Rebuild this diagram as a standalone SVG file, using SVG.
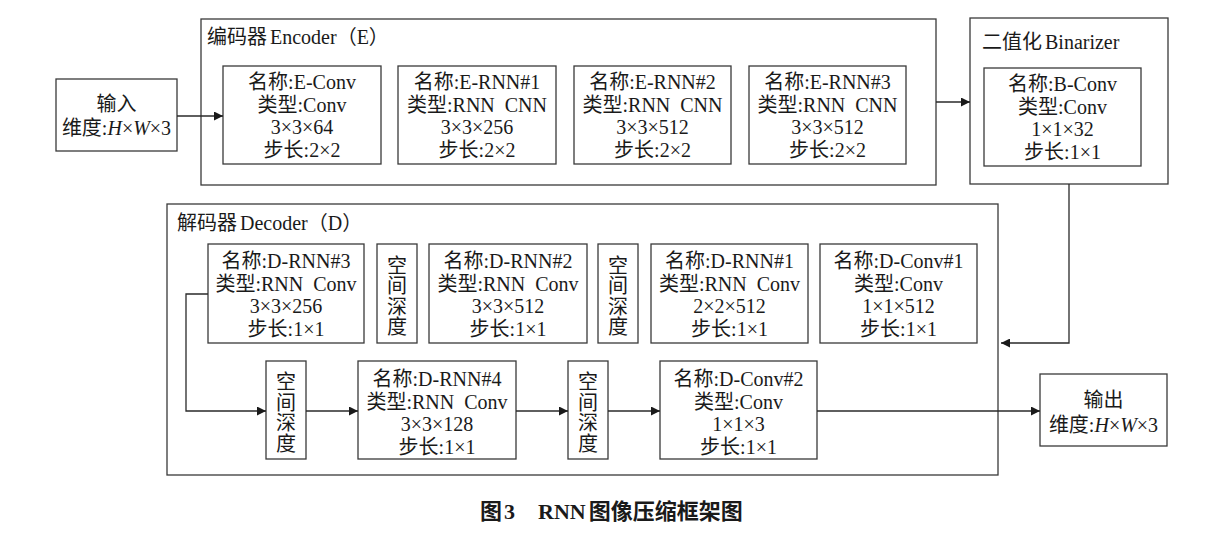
<svg xmlns="http://www.w3.org/2000/svg" width="1232" height="534" viewBox="0 0 1232 534">
<style>
  .box { fill: #fff; stroke: #3a3a3a; stroke-width: 1.3; }
  .frame { fill: none; stroke: #3a3a3a; stroke-width: 1.3; }
  text { font-family: "Liberation Serif", "Noto Sans CJK SC", serif; font-size: 20px; fill: #1a1a1a; }
  .c { text-anchor: middle; }
  .title { font-size: 20px; }
  .cap { font-size: 22px; font-weight: bold; }
  .it { font-style: italic; }
  .conn { fill: none; stroke: #2a2a2a; stroke-width: 1.3; }
</style>
<defs>
  <marker id="arr" viewBox="0 0 10 10" refX="10" refY="5" markerWidth="9" markerHeight="9" markerUnits="userSpaceOnUse" orient="auto">
    <path d="M0,0 L10,5 L0,10 z" fill="#1a1a1a"/>
  </marker>
</defs>
<rect width="1232" height="534" fill="#fff"/>

<g id="encoder">
  <rect class="frame" x="201" y="19" width="735" height="166"/>
  <text class="title" x="207" y="44">编码器<tspan dx="3">Encoder（E）</tspan></text>
</g>
<g id="binarizer">
  <rect class="frame" x="970" y="18" width="198" height="166"/>
  <text class="title" x="982" y="49">二值化<tspan dx="3">Binarizer</tspan></text>
</g>
<g id="decoder">
  <rect class="frame" x="167" y="204" width="831" height="271"/>
  <text class="title" x="177" y="230">解码器<tspan dx="3">Decoder（D）</tspan></text>
</g>

<g id="input">
  <rect class="box" x="56" y="79" width="121" height="72"/>
  <text class="c" x="116.5" y="111">输入</text>
  <text class="c" x="116.5" y="135">维度:<tspan class="it">H</tspan>×<tspan class="it">W</tspan>×3</text>
</g>

<g id="e-conv">
  <rect class="box" x="223" y="66" width="158" height="98"/>
  <text class="c" x="302" y="89">名称:E-Conv</text>
  <text class="c" x="302" y="111.5">类型:Conv</text>
  <text class="c" x="302" y="134">3×3×64</text>
  <text class="c" x="302" y="156.5">步长:2×2</text>
</g>
<g id="e-rnn1">
  <rect class="box" x="398" y="66" width="158" height="98"/>
  <text class="c" x="477" y="89">名称:E-RNN#1</text>
  <text class="c" x="477" y="111.5">类型:RNN&#160;&#160;CNN</text>
  <text class="c" x="477" y="134">3×3×256</text>
  <text class="c" x="477" y="156.5">步长:2×2</text>
</g>
<g id="e-rnn2">
  <rect class="box" x="574" y="66" width="157" height="98"/>
  <text class="c" x="652.5" y="89">名称:E-RNN#2</text>
  <text class="c" x="652.5" y="111.5">类型:RNN&#160;&#160;CNN</text>
  <text class="c" x="652.5" y="134">3×3×512</text>
  <text class="c" x="652.5" y="156.5">步长:2×2</text>
</g>
<g id="e-rnn3">
  <rect class="box" x="749" y="66" width="157" height="98"/>
  <text class="c" x="827.5" y="89">名称:E-RNN#3</text>
  <text class="c" x="827.5" y="111.5">类型:RNN&#160;&#160;CNN</text>
  <text class="c" x="827.5" y="134">3×3×512</text>
  <text class="c" x="827.5" y="156.5">步长:2×2</text>
</g>
<g id="b-conv">
  <rect class="box" x="984" y="68" width="157" height="98"/>
  <text class="c" x="1062.5" y="91">名称:B-Conv</text>
  <text class="c" x="1062.5" y="113.5">类型:Conv</text>
  <text class="c" x="1062.5" y="136">1×1×32</text>
  <text class="c" x="1062.5" y="158.5">步长:1×1</text>
</g>

<g id="d-rnn3">
  <rect class="box" x="208" y="244" width="156" height="99"/>
  <text class="c" x="286" y="268">名称:D-RNN#3</text>
  <text class="c" x="286" y="290.5">类型:RNN&#160;&#160;Conv</text>
  <text class="c" x="286" y="313">3×3×256</text>
  <text class="c" x="286" y="335.5">步长:1×1</text>
</g>
<g id="s2d-1">
  <rect class="box" x="377" y="244" width="40" height="99"/>
  <text class="c" x="397" y="272.5">空</text>
  <text class="c" x="397" y="293">间</text>
  <text class="c" x="397" y="313.5">深</text>
  <text class="c" x="397" y="334">度</text>
</g>
<g id="d-rnn2">
  <rect class="box" x="429" y="244" width="158" height="99"/>
  <text class="c" x="508" y="268">名称:D-RNN#2</text>
  <text class="c" x="508" y="290.5">类型:RNN&#160;&#160;Conv</text>
  <text class="c" x="508" y="313">3×3×512</text>
  <text class="c" x="508" y="335.5">步长:1×1</text>
</g>
<g id="s2d-2">
  <rect class="box" x="598" y="244" width="40" height="99"/>
  <text class="c" x="618" y="272.5">空</text>
  <text class="c" x="618" y="293">间</text>
  <text class="c" x="618" y="313.5">深</text>
  <text class="c" x="618" y="334">度</text>
</g>
<g id="d-rnn1">
  <rect class="box" x="651" y="244" width="157" height="99"/>
  <text class="c" x="729.5" y="268">名称:D-RNN#1</text>
  <text class="c" x="729.5" y="290.5">类型:RNN&#160;&#160;Conv</text>
  <text class="c" x="729.5" y="313">2×2×512</text>
  <text class="c" x="729.5" y="335.5">步长:1×1</text>
</g>
<g id="d-conv1">
  <rect class="box" x="820" y="244" width="157" height="99"/>
  <text class="c" x="898.5" y="268">名称:D-Conv#1</text>
  <text class="c" x="898.5" y="290.5">类型:Conv</text>
  <text class="c" x="898.5" y="313">1×1×512</text>
  <text class="c" x="898.5" y="335.5">步长:1×1</text>
</g>

<g id="s2d-3">
  <rect class="box" x="266" y="361" width="40" height="98"/>
  <text class="c" x="286" y="389">空</text>
  <text class="c" x="286" y="409.5">间</text>
  <text class="c" x="286" y="430">深</text>
  <text class="c" x="286" y="450.5">度</text>
</g>
<g id="d-rnn4">
  <rect class="box" x="358" y="361" width="158" height="98"/>
  <text class="c" x="437" y="386">名称:D-RNN#4</text>
  <text class="c" x="437" y="408.5">类型:RNN&#160;&#160;Conv</text>
  <text class="c" x="437" y="431">3×3×128</text>
  <text class="c" x="437" y="453.5">步长:1×1</text>
</g>
<g id="s2d-4">
  <rect class="box" x="568" y="361" width="40" height="98"/>
  <text class="c" x="588" y="389">空</text>
  <text class="c" x="588" y="409.5">间</text>
  <text class="c" x="588" y="430">深</text>
  <text class="c" x="588" y="450.5">度</text>
</g>
<g id="d-conv2">
  <rect class="box" x="660" y="361" width="157" height="98"/>
  <text class="c" x="738.5" y="386">名称:D-Conv#2</text>
  <text class="c" x="738.5" y="408.5">类型:Conv</text>
  <text class="c" x="738.5" y="431">1×1×3</text>
  <text class="c" x="738.5" y="453.5">步长:1×1</text>
</g>

<g id="output">
  <rect class="box" x="1040" y="374" width="127" height="72"/>
  <text class="c" x="1103.5" y="407">输出</text>
  <text class="c" x="1103.5" y="432">维度:<tspan class="it">H</tspan>×<tspan class="it">W</tspan>×3</text>
</g>

<g id="connectors">
  <path class="conn" d="M177,116 H223" marker-end="url(#arr)"/>
  <path class="conn" d="M936,102 H970" marker-end="url(#arr)"/>
  <path class="conn" d="M1069,184 V343 H1001" marker-end="url(#arr)"/>
  <path class="conn" d="M208,294 H186 V411 H266" marker-end="url(#arr)"/>
  <path class="conn" d="M306,411 H358" marker-end="url(#arr)"/>
  <path class="conn" d="M516,411 H568" marker-end="url(#arr)"/>
  <path class="conn" d="M608,411 H660" marker-end="url(#arr)"/>
  <path class="conn" d="M817,411 H1040" marker-end="url(#arr)"/>
</g>

<g id="caption">
  <text class="cap" x="480" y="519">图<tspan dx="2">3</tspan></text>
  <text class="cap" x="538" y="519">RNN<tspan dx="3">图像压缩框架图</tspan></text>
</g>
</svg>
